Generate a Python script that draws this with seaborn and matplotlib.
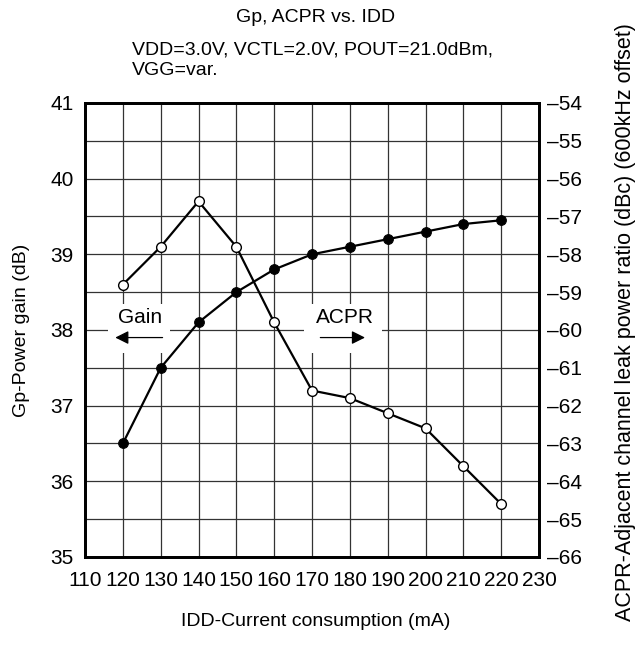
import numpy as np
import pandas as pd
import seaborn as sns
import matplotlib.pyplot as plt
from matplotlib.patches import Rectangle

# Data
idd = [120, 130, 140, 150, 160, 170, 180, 190, 200, 210, 220]          # mA
gain = [38.6, 39.1, 39.7, 39.1, 38.1, 37.2, 37.1, 36.9, 36.7, 36.2, 35.7]  # dB
acpr = [-63.0, -61.0, -59.8, -59.0, -58.4, -58.0, -57.8, -57.6, -57.4, -57.2, -57.1]  # dBc

df = pd.DataFrame({"IDD": idd, "Gain": gain, "ACPR": acpr})

sns.set_style("white")
plt.rcParams["font.family"] = ["Liberation Sans", "DejaVu Sans"]
plt.rcParams["text.color"] = "black"
plt.rcParams["xtick.color"] = "black"
plt.rcParams["ytick.color"] = "black"

fig = plt.figure(figsize=(6.44, 6.51), dpi=100)
ax = fig.add_axes([0.132, 0.1444, 0.705, 0.6974])
ax2 = ax.twinx()

# Gain (open circles) on the left scale
sns.lineplot(data=df, x="IDD", y="Gain", ax=ax, color="black", lw=1.6,
             marker="o", markersize=7, markerfacecolor="white",
             markeredgecolor="black", markeredgewidth=1.0, zorder=5)
# ACPR (filled circles) on the right scale
sns.lineplot(data=df, x="IDD", y="ACPR", ax=ax2, color="black", lw=1.6,
             marker="o", markersize=7, markerfacecolor="black",
             markeredgecolor="black", zorder=5)

ax.set_xlim(110, 230)
ax.set_ylim(35, 41)
ax2.set_ylim(-66, -54)

ax.set_xticks(range(110, 231, 10))
ax.set_yticks(range(35, 42))
ax.set_yticks(np.arange(35.5, 41, 1.0), minor=True)
ax2.set_yticks(range(-66, -53))
ax2.set_yticklabels([f"\u2013{abs(v)}" for v in range(-66, -53)])

ax.grid(True, which="both", axis="y", color="#333333", lw=0.9)
ax.grid(True, which="major", axis="x", color="#333333", lw=0.9)
ax.set_axisbelow(True)

ax.tick_params(axis="x", length=0, pad=10, labelsize=15)
ax.tick_params(axis="y", which="both", length=0, pad=8, labelsize=15)
ax2.tick_params(axis="y", length=0, pad=6, labelsize=15)

for a in (ax, ax2):
    for s in a.spines.values():
        s.set_color("black")
        s.set_linewidth(2.0)

ax.set_xlabel("")
ax.set_ylabel("")
ax2.set_ylabel("")

# "Gain <-" and "ACPR ->" call-outs on white patches that break the grid
ax.add_patch(Rectangle((116, 37.7), 16.5, 0.65, facecolor="white",
                       edgecolor="none", zorder=1.5))
ax.add_patch(Rectangle((168, 37.7), 20.5, 0.65, facecolor="white",
                       edgecolor="none", zorder=1.5))
ax.text(124.5, 38.16, "Gain", ha="center", va="center", fontsize=15, zorder=3)
ax.text(178.8, 38.16, "ACPR", ha="center", va="center", fontsize=15, zorder=3)
ax.annotate("", xy=(118, 37.9), xytext=(130.5, 37.9), zorder=3,
            arrowprops=dict(arrowstyle="-|>", color="black", lw=0.9,
                            mutation_scale=20, shrinkA=0, shrinkB=0))
ax.annotate("", xy=(184, 37.9), xytext=(172.2, 37.9), zorder=3,
            arrowprops=dict(arrowstyle="-|>", color="black", lw=0.9,
                            mutation_scale=20, shrinkA=0, shrinkB=0))

# Titles and axis labels
fig.text(316 / 644, 1 - 17 / 651, "Gp, ACPR vs. IDD", ha="center", va="center",
         fontsize=14)
fig.text(132 / 644, 1 - 60 / 651, "VDD=3.0V, VCTL=2.0V, POUT=21.0dBm,\nVGG=var.",
         ha="left", va="center", fontsize=14, linespacing=1.3)
fig.text(316 / 644, 1 - 621 / 651, "IDD-Current consumption (mA)", ha="center",
         va="center", fontsize=14)
fig.text(22 / 644, 1 - 330 / 651, "Gp-Power gain (dB)", ha="center",
         va="center", rotation=90, fontsize=14)
fig.text(626 / 644, 1 - 322 / 651,
         "ACPR-Adjacent channel leak power ratio (dBc) (600kHz offset)",
         ha="center", va="center", rotation=90, fontsize=15.5)

fig.savefig("out.png", dpi=100)
